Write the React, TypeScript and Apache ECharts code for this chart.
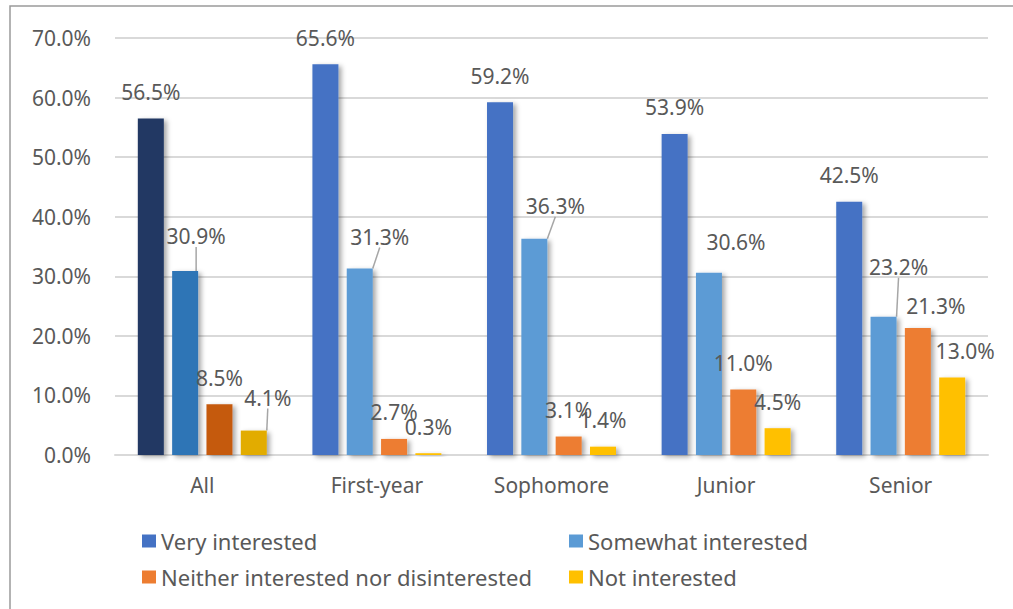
import React, { useEffect, useRef } from "react";
import * as echarts from "echarts";

const categories = ["All", "First-year", "Sophomore", "Junior", "Senior"];
const seriesNames = [
  "Very interested",
  "Somewhat interested",
  "Neither interested nor disinterested",
  "Not interested",
];
const veryInterested = [56.5, 65.6, 59.2, 53.9, 42.5];
const somewhatInterested = [30.9, 31.3, 36.3, 30.6, 23.2];
const neitherInterested = [8.5, 2.7, 3.1, 11.0, 21.3];
const notInterested = [4.1, 0.3, 1.4, 4.5, 13.0];
const yTicks = [0, 10, 20, 30, 40, 50, 60, 70];

const baseColors = ["#4472C4", "#5B9BD5", "#ED7D31", "#FFC000"];
const allColors = ["#203864", "#2E75B6", "#C55A11", "#E2AC00"];

// label offsets [dx, dy, showLine] per series per category
const labelMoves: [number, number, boolean][][] = [
  [[0, 0, false], [0, 0, false], [0, 0, false], [0, 0, false], [0, 0, false]],
  [[11, -8, true], [20, -5, true], [21, -6, true], [27, -4, false], [15, -23, true]],
  [[0, 0, false], [0, 0, false], [0, 0, false], [0, 0, false], [18, 4, false]],
  [[14, -6, true], [0, 0, false], [0, 0, false], [0, 0, false], [13, 0, false]],
];

const FONT = "'Noto Sans', 'Open Sans', sans-serif";

export default function App() {
  const ref = useRef<HTMLDivElement>(null);
  useEffect(() => {
    if (!ref.current) return;
    const chart = echarts.init(ref.current, undefined, { renderer: "svg" });
    const values = [veryInterested, somewhatInterested, neitherInterested, notInterested];
    const series = values.map((vals, si) => ({
      name: seriesNames[si],
      type: "bar",
      barWidth: 26,
      barGap: "32%",
      itemStyle: {
        color: baseColors[si],
        shadowColor: "rgba(0,0,0,0.35)",
        shadowBlur: 5,
        shadowOffsetX: 3,
        shadowOffsetY: 2,
      },
      data: vals.map((v, ci) => ({
        value: v,
        itemStyle: ci === 0 ? { color: allColors[si] } : undefined,
        labelLine: { show: labelMoves[si][ci][2] },
      })),
      label: {
        show: true,
        position: "top",
        distance: 16,
        fontSize: 21,
        color: "#595959",
        fontFamily: FONT,
        formatter: (p: any) => `${Number(p.value).toFixed(1)}%`,
      },
      labelLine: {
        show: true,
        lineStyle: { color: "#A6A6A6", width: 1.5 },
      },
      labelLayout: (p: any) => {
        const m = labelMoves[si][p.dataIndex];
        return { dx: m[0], dy: m[1] };
      },
    }));

    const legendCommon = {
      orient: "vertical",
      top: 530,
      padding: 0,
      itemWidth: 14,
      itemHeight: 13,
      itemGap: 14,
      icon: "rect",
      textStyle: { fontSize: 22, color: "#595959", fontFamily: FONT },
    };

    chart.setOption({
      animation: false,
      backgroundColor: "#FFFFFF",
      grid: { left: 115, right: 25, top: 38, bottom: 154, containLabel: false },
      xAxis: {
        type: "category",
        data: categories,
        axisTick: { show: false },
        axisLine: { show: true, lineStyle: { color: "#D9D9D9", width: 2 } },
        axisLabel: { fontSize: 21, color: "#595959", fontFamily: FONT, margin: 19 },
      },
      yAxis: {
        type: "value",
        min: yTicks[0],
        max: yTicks[yTicks.length - 1],
        interval: 10,
        axisLine: { show: false },
        axisTick: { show: false },
        splitLine: { lineStyle: { color: "#D9D9D9", width: 2 } },
        axisLabel: {
          fontSize: 21,
          color: "#595959",
          fontFamily: FONT,
          margin: 24,
          formatter: (v: number) => `${v.toFixed(1)}%`,
        },
      },
      legend: [
        { ...legendCommon, data: [seriesNames[0], seriesNames[2]], left: 142 },
        { ...legendCommon, data: [seriesNames[1], seriesNames[3]], left: 569 },
      ],
      graphic: [
        {
          type: "rect",
          shape: { x: 10, y: 6, width: 1020, height: 620 },
          style: { fill: "none", stroke: "#9A9A9A", lineWidth: 1.5 },
          silent: true,
        },
      ],
      series,
    });
    return () => chart.dispose();
  }, []);
  return (
    <div
      ref={ref}
      style={{ position: "absolute", left: 0, top: 0, width: 1013, height: 609 }}
    />
  );
}
